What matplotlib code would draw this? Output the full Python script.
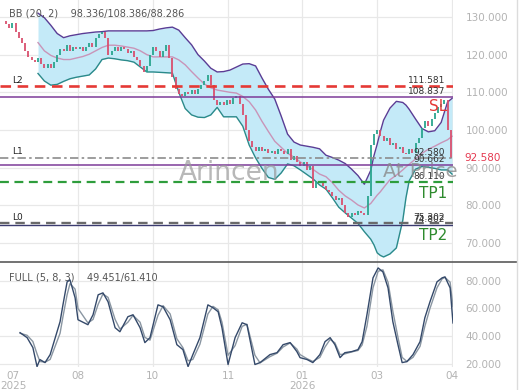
import matplotlib
matplotlib.use("Agg")
import matplotlib.pyplot as plt
from matplotlib.ticker import FormatStrFormatter
from matplotlib.lines import Line2D
import numpy as np

# Data
close = [128, 127, 128.5, 126, 124.5, 123, 121, 119.5, 118.5, 118,
         119, 117.5, 116.5, 117.5, 116.5, 118, 120, 121.5, 121, 122.5,
         121, 122, 121.5, 122, 121, 122, 123, 122, 124.5, 125.5,
         126, 124.5, 120, 121, 122, 121, 122, 121.5, 120.5, 121,
         119.5, 118.5, 117, 115.5, 117, 120, 122, 121, 119.5, 121,
         122.5, 119, 114, 111, 109.5, 109, 110, 109.5, 110.5, 109.5,
         111, 112, 113, 114.5, 112, 108, 106.5, 107.5, 106.5, 108,
         107, 108.5, 109, 107, 104, 100, 97, 95.5, 94.5, 95.5,
         94.5, 95, 94, 94.5, 93.5, 95, 94.5, 93.5, 95, 92,
         93, 91.5, 90.5, 91.5, 89.5, 90.5, 84.5, 86.5, 86, 85,
         84, 83.5, 82.5, 81.5, 82, 80, 78, 77, 78, 77.5,
         78.5, 78, 77.5, 82.5, 96, 99, 100, 98.5, 97, 98,
         96, 96.5, 95, 95.5, 94, 93.5, 95, 94, 96.5, 98,
         100.5, 102.5, 101, 103, 104.5, 106, 107, 108, 100, 92.58]
first_open = 129

bb_x = [10, 12, 14, 16, 18, 20, 22, 24, 26, 28, 30, 32, 34, 36, 38, 40, 42, 44, 46, 48,
        50, 52, 54, 56, 58, 60, 62, 64, 66, 68, 70, 72, 74, 76, 78, 80, 82, 84, 86, 88,
        90, 92, 94, 96, 98, 100, 102, 104, 106, 108, 110, 112, 114, 115, 116, 117, 118,
        120, 122, 124, 125, 126, 128, 130, 132, 134, 136, 138, 139.4]
bb_up = [131.0, 129.8, 127.8, 125.6, 124.5, 125.0, 125.3, 125.6, 125.8, 126.0, 126.1,
         126.3, 126.3, 126.3, 126.3, 126.3, 126.3, 126.3, 126.4, 126.8, 127.1, 127.3,
         126.5, 124.5, 122.6, 120.0, 118.3, 116.4, 115.4, 115.5, 115.9, 116.7, 117.5,
         117.6, 117.0, 113.8, 110.8, 108.2, 103.7, 98.9, 96.8, 96.0, 95.7, 95.4, 95.0,
         93.3, 92.7, 92.0, 91.1, 89.6, 87.9, 85.6, 89.3, 93.2, 96.2, 99.6, 102.6, 105.8,
         107.6, 107.3, 106.6, 105.5, 102.9, 100.4, 99.5, 99.8, 102.0, 107.4, 108.386]
bb_mid = [123.2, 121.0, 119.8, 119.1, 118.7, 118.7, 119.1, 119.5, 120.1, 121.0, 121.9,
          122.5, 122.5, 122.3, 122.0, 121.7, 121.0, 120.0, 119.4, 119.4, 119.4, 119.4,
          118.6, 117.3, 115.5, 113.8, 112.2, 111.2, 110.6, 110.3, 110.0, 109.8, 108.9,
          107.5, 105.3, 102.3, 99.6, 97.0, 95.4, 93.8, 92.8, 91.5, 90.5, 89.5, 88.3,
          87.6, 86.0, 84.0, 82.5, 81.4, 80.1, 79.3, 80.5, 81.6, 82.7, 83.6, 84.7, 86.8,
          88.0, 89.4, 90.2, 90.9, 92.3, 93.8, 94.9, 95.7, 96.6, 97.4, 98.336]
bb_lo = [115.0, 113.0, 111.9, 112.1, 112.9, 113.6, 114.0, 114.3, 114.6, 116.2, 118.7,
         119.1, 118.9, 118.6, 118.4, 118.0, 116.7, 115.4, 115.4, 115.3, 115.2, 115.1,
         110.0, 105.7, 104.0, 103.4, 103.3, 104.0, 106.0, 103.5, 103.5, 103.5, 101.0,
         96.0, 92.6, 89.8, 87.4, 86.9, 88.6, 91.0, 90.5, 89.4, 88.2, 87.0, 85.4, 84.3,
         82.0, 79.5, 78.0, 76.6, 75.2, 73.0, 71.0, 69.5, 67.4, 66.7, 66.3, 67.1, 68.7,
         76.0, 82.0, 86.5, 89.6, 90.3, 90.1, 89.8, 89.4, 89.4, 88.286]

stoch_x = [4.4, 6.6, 8.4, 9.7, 10.6, 12.2, 13.8, 16.9, 17.8, 19.1, 20, 21.6, 22.5, 25.6,
           27.2, 28.8, 30.3, 31.9, 34.1, 35.6, 38.1, 39.7, 41.9, 43.4, 45, 47.5, 49.1,
           51.3, 53.4, 55.3, 56.9, 58.4, 60.6, 63.1, 64.7, 66.3, 67.5, 69.4, 71.6, 73.8,
           75.3, 77.8, 79.4, 82.5, 84.7, 86.6, 88.8, 90.9, 91.9, 94.1, 95.9, 98.1, 99.7,
           101.3, 102.8, 104.4, 105.9, 108.1, 110, 111.3, 112.8, 114.7, 116.3, 117.8,
           119.4, 120.9, 122.5, 123.8, 125.3, 127.2, 129.4, 130.9, 132.5, 134.7, 136.3,
           137.2, 138.8, 139.7]
stoch_k = [42.4, 38.8, 31.6, 17.8, 22.9, 20.7, 26.5, 50.4, 62.6, 79.3, 80.7, 67.7, 51.8,
           48.2, 55.4, 69.9, 71.3, 64.8, 46, 43.1, 54, 55.4, 46, 35.2, 38.8, 62.6, 61.2,
           51.8, 33.7, 30.1, 17.8, 26.5, 38.8, 62.6, 60.5, 57.6, 46, 19.3, 38.8, 49.6,
           48.2, 19.3, 20.7, 26.5, 27.9, 33.7, 35.2, 28.7, 24.3, 22.9, 20.7, 26.5, 35.9,
           38.8, 33.7, 24.3, 27.9, 28.7, 30.1, 35.9, 55.4, 82.2, 89.4, 86.5, 74.9, 50.4,
           33.7, 20.7, 21.4, 26.5, 35.9, 53.2, 64.8, 79.3, 82.2, 82.9, 74.9, 49.451]
stoch_d = [42.0, 40.5, 36.0, 27.0, 21.5, 21.0, 23.0, 42.0, 54.0, 70.0, 78.0, 74.0, 60.0,
           49.5, 52.0, 63.0, 70.5, 68.0, 52.0, 45.0, 50.0, 55.0, 50.0, 39.0, 37.0, 55.0,
           62.0, 56.0, 38.0, 31.5, 22.0, 23.0, 34.0, 56.0, 61.5, 59.0, 50.0, 26.0, 33.0,
           47.0, 48.5, 26.0, 20.5, 25.0, 27.5, 32.0, 35.0, 30.5, 26.5, 23.5, 21.5, 24.5,
           32.0, 37.5, 35.0, 26.5, 27.0, 28.5, 29.5, 33.5, 47.0, 75.0, 87.0, 88.0, 79.0,
           58.0, 39.0, 24.5, 21.5, 24.5, 32.5, 47.0, 60.0, 75.0, 81.5, 82.5, 79.0, 61.41]

# horizontal levels: value, colour, style, width
levels = [(111.581, "#e53935", (0, (4, 2.5)), 1.9),
          (108.837, "#7d3c98", "-", 1.1),
          (92.580, "#8c8c8c", (0, (5, 2, 1.5, 2)), 1.2),
          (90.662, "#7d3c98", "-", 1.1),
          (86.110, "#2e9d3c", (0, (4, 2.5)), 1.6),
          (74.802, "#3b3b70", "-", 1.0),
          (75.302, "#6a6a6a", (0, (4, 2.5)), 1.7)]
level_names = {111.581: "L2", 92.580: "L1", 75.302: "L0"}
price_labels = [(111.581, "111.581"), (108.837, "108.837"), (92.580, "92.580"),
                (90.662, "90.662"), (86.110, "86.110"), (75.302, "75.302"), (74.802, "74.802")]
last_price = 92.580

tick_pos = [2.2, 22.5, 45.9, 69.4, 92.5, 115.9, 139.4]
tick_lab = ["07\n2025", "08", "10", "11", "01\n2026", "03", "04"]

W, H = 520, 390
fig = plt.figure(figsize=(5.2, 3.9), dpi=100)
ax = fig.add_axes([0, 1 - 262 / H, 453 / W, 262 / H])
ax2 = fig.add_axes([0, 1 - 367 / H, 453 / W, 105 / H])

x = np.arange(len(close))
xlim = (-1.875, 139.7)
grid_c = "#e8e8e8"

# price panel
ax.set_xlim(*xlim)
ax.set_ylim(64.96, 134.5)
for t in tick_pos[1:]:
    ax.axvline(t, color=grid_c, lw=0.9, zorder=0)
    ax2.axvline(t, color=grid_c, lw=0.9, zorder=0)
ax.set_yticks([70, 80, 90, 100, 110, 120, 130])
ax.yaxis.grid(True, color=grid_c, lw=0.9)
ax.set_axisbelow(True)

ax.fill_between(bb_x, bb_up, bb_lo, color="#c4eaf8", lw=0, zorder=1)
ax.plot(bb_x, bb_up, color="#5a3d95", lw=1.0, zorder=3)
ax.plot(bb_x, bb_lo, color="#2b8a8a", lw=1.0, zorder=3)
ax.plot(bb_x, bb_mid, color="#c994b8", lw=1.0, zorder=3)

opens = [first_open] + close[:-1]
cols = ["#2aa58e" if c >= o else "#d9506e" for o, c in zip(opens, close)]
ax.vlines(x, opens, close, colors=cols, lw=1.3, zorder=4)

for val, c, ls, lw in levels:
    ax.axhline(val, color=c, ls=ls, lw=lw, zorder=5)
for val, name in level_names.items():
    ax.text(2, val + 0.4, name, fontsize=6.5, color="#222", va="bottom", zorder=6)
for val, lab in price_labels:
    ax.text(137.2, val + 0.3, lab, fontsize=6.5, color="#333", ha="right",
            va="bottom", zorder=6)

ax.text(137.8, 108.3, "SL", fontsize=11, color="#e53935", ha="right", va="top", zorder=6)
ax.text(137.8, 85.2, "TP1", fontsize=11, color="#2e8b2e", ha="right", va="top", zorder=6)
ax.text(137.8, 73.9, "TP2", fontsize=11, color="#2e8b2e", ha="right", va="top", zorder=6)
ax.text(0.927, 0.345, "At Price", transform=ax.transAxes, fontsize=14,
        color="#8a8a8a", alpha=0.8, ha="center", va="center", zorder=6)
ax.text(0.505, 0.34, "Arincen", transform=ax.transAxes, fontsize=19,
        color="#9a9a9a", alpha=0.7, ha="center", va="center", zorder=6)
ax.text(0.02, 0.95, "BB (20, 2)    98.336/108.386/88.286", transform=ax.transAxes,
        fontsize=7, color="#555", va="center", zorder=6)

ax.yaxis.tick_right()
ax.yaxis.set_major_formatter(FormatStrFormatter("%.3f"))
ax.tick_params(axis="y", length=0, pad=9, labelsize=7.5, labelcolor="#b3b3b3")
ax.tick_params(axis="x", length=0, labelbottom=False)
ax.text(1.026, last_price, "%.3f" % last_price, transform=ax.get_yaxis_transform(),
        fontsize=7.5, color="#e53950", va="center", zorder=7,
        bbox=dict(facecolor="white", edgecolor="none", pad=0.6))
for s in ax.spines.values():
    s.set_visible(False)

# stochastic panel
ax2.set_xlim(*xlim)
ax2.set_ylim(17.5, 93.7)
ax2.set_yticks([20, 40, 60, 80])
ax2.yaxis.grid(True, color=grid_c, lw=0.9)
ax2.plot(stoch_x, stoch_d, color="#8a96a2", lw=1.0, zorder=3)
ax2.plot(stoch_x, stoch_k, color="#34496a", lw=1.0, zorder=4)
ax2.text(0.02, 0.85, "FULL (5, 8, 3)    49.451/61.410", transform=ax2.transAxes,
         fontsize=7, color="#555", va="center")
ax2.yaxis.tick_right()
ax2.yaxis.set_major_formatter(FormatStrFormatter("%.3f"))
ax2.tick_params(axis="y", length=0, pad=9, labelsize=7.5, labelcolor="#b3b3b3")
ax2.set_xticks(tick_pos)
ax2.set_xticklabels(tick_lab, linespacing=0.95)
ax2.tick_params(axis="x", length=0, pad=3, labelsize=7.5, labelcolor="#b3b3b3")
for s in ax2.spines.values():
    s.set_visible(False)

sep_y = 1 - 262 / H
fig.add_artist(Line2D([0, 517 / W], [sep_y, sep_y], color="#5a5a5a", lw=1.2))
fig.add_artist(Line2D([517 / W, 517 / W], [0, 1], color="#dcdcdc", lw=1.0))

fig.savefig("out.png", dpi=100)
